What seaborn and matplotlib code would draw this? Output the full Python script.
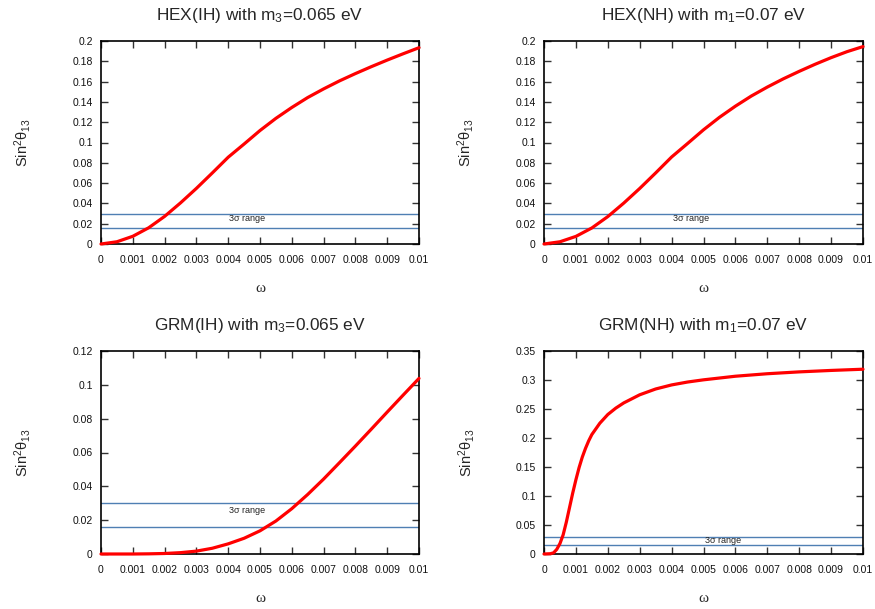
import matplotlib
matplotlib.use("Agg")
import matplotlib.pyplot as plt
import seaborn as sns
import pandas as pd

# omega grid (in units of 1e-3) and Sin^2(theta_13) values for each model
omega_hex = [0, 0.5, 1, 1.5, 2, 2.5, 3, 3.5, 4, 4.5, 5, 5.5, 6, 6.5, 7, 7.5, 8, 8.5, 9, 9.5, 10]
hex_ih = [0, 0.0022, 0.0076, 0.016, 0.0272, 0.0405, 0.0548, 0.07, 0.0855, 0.0985, 0.1118,
          0.1238, 0.1345, 0.1443, 0.1528, 0.1607, 0.1679, 0.1747, 0.1812, 0.1874, 0.1934]
hex_nh = [0, 0.0022, 0.0075, 0.0158, 0.027, 0.0403, 0.0547, 0.07, 0.0857, 0.099, 0.1125,
          0.1248, 0.1358, 0.1458, 0.1546, 0.1627, 0.1701, 0.1771, 0.1836, 0.1895, 0.1945]

omega_grm_ih = [0, 0.5, 1, 1.5, 2, 2.5, 3, 3.5, 4, 4.5, 5, 5.5, 6, 6.5, 7, 7.5, 8, 8.5, 9, 9.5, 10]
grm_ih = [0, 0, 0, 0.0001, 0.0003, 0.0008, 0.0017, 0.0034, 0.006, 0.0093, 0.0137, 0.0195,
          0.0268, 0.0352, 0.0443, 0.054, 0.0638, 0.0738, 0.0839, 0.0939, 0.1038]

omega_grm_nh = [0, 0.2, 0.3, 0.4, 0.5, 0.6, 0.7, 0.8, 0.9, 1.0, 1.1, 1.2, 1.3, 1.4, 1.5, 1.75,
                2, 2.25, 2.5, 3, 3.5, 4, 4.5, 5, 6, 7, 8, 9, 10]
grm_nh = [0, 0.0005, 0.002, 0.008, 0.018, 0.033, 0.055, 0.08, 0.105, 0.128, 0.149, 0.167,
          0.182, 0.195, 0.206, 0.2255, 0.2405, 0.2515, 0.2605, 0.2745, 0.2845, 0.2915, 0.2965,
          0.3003, 0.3065, 0.3108, 0.314, 0.3165, 0.3186]

# 3 sigma band of Sin^2(theta_13)
band = [0.016, 0.030]

titles = [r"HEX(IH) with m$_3$=0.065 eV", r"HEX(NH) with m$_1$=0.07 eV",
          r"GRM(IH) with m$_3$=0.065 eV", r"GRM(NH) with m$_1$=0.07 eV"]

x_ticklabels = ["0", "0.001", "0.002", "0.003", "0.004", "0.005",
                "0.006", "0.007", "0.008", "0.009", "0.01"]
y_ticklabels_hex = ["0", "0.02", "0.04", "0.06", "0.08", "0.1", "0.12", "0.14", "0.16", "0.18", "0.2"]
y_ticklabels_grm_ih = ["0", "0.02", "0.04", "0.06", "0.08", "0.1", "0.12"]
y_ticklabels_grm_nh = ["0", "0.05", "0.1", "0.15", "0.2", "0.25", "0.3", "0.35"]

sns.set_style("ticks")
plt.rcParams["font.family"] = ["Liberation Sans", "DejaVu Sans"]
plt.rcParams["mathtext.default"] = "regular"

fig = plt.figure(figsize=(8.75, 6.09), dpi=100)

W, H = 875, 609
boxes = [(101, 41, 318, 203), (544, 41, 319, 203), (101, 351, 318, 203), (544, 351, 319, 203)]
panels = [
    (omega_hex, hex_ih, y_ticklabels_hex, (0.0046, 0.0249)),
    (omega_hex, hex_nh, y_ticklabels_hex, (0.0046, 0.0250)),
    (omega_grm_ih, grm_ih, y_ticklabels_grm_ih, (0.0046, 0.0256)),
    (omega_grm_nh, grm_nh, y_ticklabels_grm_nh, (0.0056, 0.0230)),
]

for (x0, y0, w, h), (om, s2, ylabs, txt), title in zip(boxes, panels, titles):
    ax = fig.add_axes([x0 / W, 1 - (y0 + h) / H, w / W, h / H])
    df = pd.DataFrame({"omega": [v * 1e-3 for v in om], "s2": s2})
    sns.lineplot(data=df, x="omega", y="s2", ax=ax, color="#ff0000", lw=2.3,
                 zorder=3, clip_on=False)
    for b in band:
        ax.axhline(b, color="#4f7fb3", lw=1.0, zorder=2)
    ax.text(txt[0], txt[1], "3σ range", fontsize=6.5, ha="center", va="center", color="#222222")

    yvals = [float(t) for t in ylabs]
    ax.set_xlim(0, 0.01)
    ax.set_ylim(0, yvals[-1])
    ax.set_xticks([float(t) for t in x_ticklabels])
    ax.set_xticklabels(x_ticklabels)
    ax.set_yticks(yvals)
    ax.set_yticklabels(ylabs)
    ax.tick_params(direction="in", length=5, width=1.0, color="#333333", labelsize=7.5,
                   pad=8, top=True, right=True, labelcolor="#111111")
    ax.tick_params(axis="y", pad=6)
    for sp in ax.spines.values():
        sp.set_visible(True)
        sp.set_linewidth(1.2)
        sp.set_color("black")
    ax.set_title(title, fontsize=12.4, pad=15)
    ax.set_xlabel("ω", fontsize=11, family=["Liberation Serif", "DejaVu Serif"], labelpad=12)
    ax.set_ylabel(r"Sin$^2$θ$_{13}$", fontsize=10.5, labelpad=28)

fig.savefig("out.png", dpi=100)
